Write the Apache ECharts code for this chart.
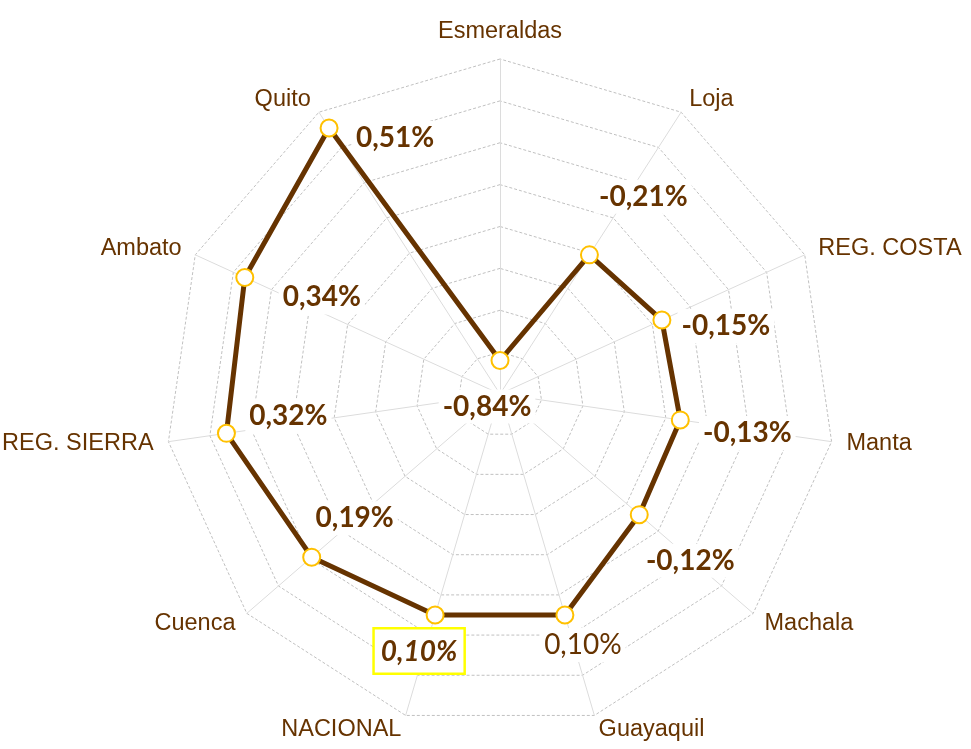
<!DOCTYPE html>
<html>
<head>
<meta charset="utf-8">
<title>Radar</title>
<script src="https://cdn.jsdelivr.net/npm/echarts@6/dist/echarts.min.js"></script>
<style>
  html, body { margin: 0; padding: 0; background: #fff; }
  #chart { width: 971px; height: 749px; }
</style>
</head>
<body>
<div id="chart"></div>
<script>
// ejes en el orden de ECharts (antihorario desde arriba), así quedan en sentido horario como el original
const categories = ['Esmeraldas', 'Quito', 'Ambato', 'REG. SIERRA', 'Cuenca', 'NACIONAL', 'Guayaquil', 'Machala', 'Manta', 'REG. COSTA', 'Loja'];
// variación (%)
const values = [-0.84, 0.51, 0.34, 0.32, 0.19, 0.10, 0.10, -0.12, -0.13, -0.15, -0.21];
const axisMin = -1.0;
const axisMax = 0.6;
const splitCount = 8;

// desplazamiento de cada etiqueta respecto a su marcador (px) y estilo de texto
const labelOffsets = [[-13, 46], [66, 10], [77, 20], [62, -17], [43, -39], [-16, 36], [18, 30], [51, 46], [67, 13], [64, 6], [54, -58]];
const labelStyles = ['b', 'b', 'b', 'b', 'b', 'bi', 'r', 'b', 'b', 'b', 'b'];

const brown = '#663300';

const fmt = v => v.toFixed(2).replace('.', ',') + '%';

const rich = {
  b: {
    fontFamily: 'Lato', fontWeight: 'bold', fontSize: 28, color: brown,
    backgroundColor: '#fff', padding: [3, 4]
  },
  r: {
    fontFamily: 'Lato', fontSize: 28, color: brown,
    backgroundColor: '#fff', padding: [3, 4]
  },
  bi: {
    fontFamily: 'Lato', fontWeight: 'bold', fontStyle: 'italic', fontSize: 28, color: brown,
    backgroundColor: '#fff', borderColor: '#ffff00', borderWidth: 2.5, padding: [8, 6, 7, 6]
  }
}

// una serie invisible por etiqueta, para poder mover cada una por separado
const labelItems = categories.map((c, i) => ({
  value: values,
  symbol: 'circle',
  symbolSize: 1,
  itemStyle: { color: 'rgba(0,0,0,0)', borderWidth: 0 },
  lineStyle: { width: 0, opacity: 0 },
  label: {
    show: true,
    position: 'inside',
    offset: labelOffsets[i],
    rich: rich,
    formatter: p => p.dimensionIndex === i ? '{' + labelStyles[i] + '|' + fmt(values[i]) + '}' : ''
  }
}))

const myChart = echarts.init(document.getElementById('chart'))
const option = {
  animation: false,
  radar: {
    center: [500, 394],
    radius: 335,
    startAngle: 90,
    splitNumber: splitCount,
    shape: 'polygon',
    indicator: categories.map(c => ({ name: c, min: axisMin, max: axisMax })),
    axisName: {
      color: brown,
      fontFamily: "'Liberation Sans', Arial, sans-serif",
      fontSize: 23.5
    },
    axisNameGap: 15,
    axisLine: { lineStyle: { color: '#dcdcdc', width: 1 } },
    splitLine: { lineStyle: { color: '#c0c0c0', width: 1, type: [3, 2] } },
    splitArea: { show: false },
    axisTick: { show: false },
    axisLabel: { show: false }
  },
  series: [
    {
      type: 'radar',
      silent: true,
      data: [
        {
          value: values,
          symbol: 'circle',
          symbolSize: 17,
          lineStyle: { color: brown, width: 5 },
          itemStyle: { color: '#fff', borderColor: '#ffc000', borderWidth: 2 },
          label: { show: false }
        }
      ].concat(labelItems)
    }
  ]
}
myChart.setOption(option)
</script>
</body>
</html>
